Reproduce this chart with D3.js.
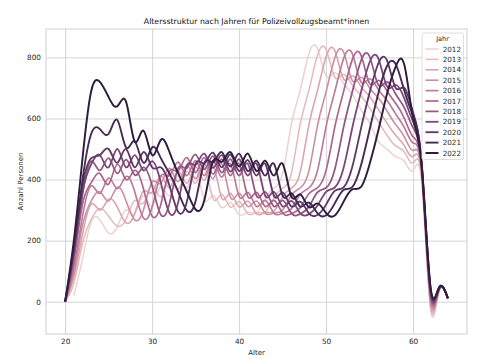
<!DOCTYPE html>
<html>
<head>
<meta charset="utf-8">
<script src="https://cdn.jsdelivr.net/npm/d3@7"></script>
<style>
  body { margin: 0; background: #fff; }
  svg { display: block; font-family: "DejaVu Sans", sans-serif; }
</style>
</head>
<body>
<div id="chart"></div>
<script>
// ages on the x axis, one value per age and year
const ages = [20,21,22,23,24,25,26,27,28,29,30,31,32,33,34,35,36,37,38,39,40,41,42,43,44,45,46,47,48,49,50,51,52,53,54,55,56,57,58,59,60,61,62,63,64];
const years = [2012,2013,2014,2015,2016,2017,2018,2019,2020,2021,2022];

const y2012 = [null,20,140,262,268,225,245,302,288,347,313,377,348,412,373,432,335,348,308,325,285,292,292,338,372,420,580,690,810,830,740,750,715,680,630,585,525,500,475,460,430,390,-25,35,8];
const y2013 = [0,60,190,270,305,280,248,270,332,323,382,343,402,368,427,388,442,338,352,310,328,288,292,294,340,372,420,578,690,806,826,735,745,710,675,635,590,545,510,490,455,400,-15,38,10];
const y2014 = [0,80,220,320,300,335,310,258,288,362,358,412,373,427,388,442,398,447,340,355,310,330,288,292,297,343,372,422,576,690,802,822,730,740,705,672,630,585,545,510,475,410,-5,38,10];
const y2015 = [0,90,250,330,360,330,375,330,268,300,392,388,437,393,447,403,452,403,452,342,355,312,330,290,290,300,348,372,425,575,688,798,818,725,735,700,668,625,580,540,495,420,5,40,10];
const y2016 = [0,110,280,380,355,405,370,410,360,274,310,412,413,457,413,462,413,462,408,452,345,358,312,332,290,290,304,350,372,428,574,688,795,813,720,730,695,660,615,570,520,425,15,40,10];
const y2017 = [0,130,320,390,420,385,450,400,430,370,280,318,427,428,472,423,472,418,467,413,452,345,358,312,332,290,288,307,353,373,430,572,687,792,808,715,725,690,650,600,540,430,22,42,10];
const y2018 = [0,150,350,460,430,470,420,465,415,440,380,285,322,437,438,482,433,477,423,467,413,452,347,360,312,332,290,287,310,358,373,433,570,686,788,803,710,720,680,635,570,435,28,42,10];
const y2019 = [0,160,360,450,480,440,500,440,480,430,460,390,290,326,447,448,485,438,480,426,467,413,452,347,360,312,330,290,286,314,360,374,437,568,685,784,797,705,710,665,590,440,34,44,12];
const y2020 = [0,170,380,470,480,500,455,500,440,490,440,440,380,294,328,452,453,488,440,482,428,464,413,452,347,358,312,328,290,284,318,363,374,440,566,684,780,790,700,700,620,445,40,44,12];
const y2021 = [0,180,400,550,565,550,595,505,525,455,505,470,420,360,298,330,455,456,490,443,485,428,462,413,452,347,355,312,325,290,283,322,366,375,445,563,682,772,778,690,610,450,45,46,12];
const y2022 = [0,200,470,690,720,670,640,655,525,560,480,530,490,420,360,302,332,460,458,490,443,485,428,462,413,452,345,352,310,322,290,282,327,368,375,450,560,680,770,775,600,445,50,48,12];

const yTicks = [0,200,400,600,800];
const xTicks = [20,30,40,50,60];

const allSeries = [y2012,y2013,y2014,y2015,y2016,y2017,y2018,y2019,y2020,y2021,y2022];

const width = 503, height = 359;
const margin = {left: 46, right: 36, top: 29, bottom: 25};

// matplotlib cubehelix as used by seaborn for numeric hue
function cubehelix(x) {
  const a = 0.8 * x * (1 - x) / 2;
  const phi = 2 * Math.PI * (0.4 * x);
  const c = Math.cos(phi), s = Math.sin(phi);
  const r = x + a * (-0.14861 * c + 1.78277 * s);
  const g = x + a * (-0.29227 * c - 0.90649 * s);
  const b = x + a * (1.97294 * c);
  const f = v => Math.round(Math.max(0, Math.min(1, v)) * 255);
  return d3.rgb(f(r), f(g), f(b)).formatHex();
}
const color = d3.scaleLinear().domain([2012, 2022]).range([0.85, 0.15]);
const lineWidth = (i) => 1.45 + i * 0.05;

const svg = d3.select("#chart").append("svg")
  .attr("width", width).attr("height", height);

const x = d3.scaleLinear().domain([17.8, 66.2]).range([margin.left, width - margin.right]);
const y = d3.scaleLinear().domain([-105.7, 893]).range([height - margin.bottom, margin.top]);

// grid
svg.append("g")
  .attr("transform", `translate(0,${height - margin.bottom})`)
  .call(d3.axisBottom(x).tickValues(xTicks).tickSize(-(height - margin.top - margin.bottom)).tickPadding(5))
  .call(g => g.select(".domain").remove())
  .call(g => g.selectAll("line").attr("stroke", "#cfcfcf").attr("stroke-width", 0.9))
  .call(g => g.selectAll("text").attr("font-size", 7.3).attr("fill", "#1f1f1f").attr("font-family", "DejaVu Sans"));

svg.append("g")
  .attr("transform", `translate(${margin.left},0)`)
  .call(d3.axisLeft(y).tickValues(yTicks).tickSize(-(width - margin.left - margin.right)).tickPadding(5))
  .call(g => g.select(".domain").remove())
  .call(g => g.selectAll("line").attr("stroke", "#cfcfcf").attr("stroke-width", 0.9))
  .call(g => g.selectAll("text").attr("font-size", 7.3).attr("fill", "#1f1f1f").attr("font-family", "DejaVu Sans"));

svg.append("rect")
  .attr("x", margin.left).attr("y", margin.top)
  .attr("width", width - margin.left - margin.right)
  .attr("height", height - margin.top - margin.bottom)
  .attr("fill", "none").attr("stroke", "#cfcfcf").attr("stroke-width", 1);

svg.append("clipPath").attr("id", "clip").append("rect")
  .attr("x", margin.left).attr("y", margin.top)
  .attr("width", width - margin.left - margin.right)
  .attr("height", height - margin.top - margin.bottom);

const line = d3.line()
  .defined(d => d[1] != null)
  .x(d => x(d[0]))
  .y(d => y(d[1]))
  .curve(d3.curveNatural);

svg.append("g").attr("clip-path", "url(#clip)")
  .selectAll("path")
  .data(years)
  .join("path")
  .attr("d", (yr, i) => line(ages.map((a, j) => [a, allSeries[i][j]])))
  .attr("fill", "none")
  .attr("stroke", yr => cubehelix(color(yr)))
  .attr("stroke-width", (yr, i) => lineWidth(i))
  .attr("stroke-linejoin", "round");

// title and labels
svg.append("text")
  .attr("x", (margin.left + width - margin.right) / 2).attr("y", 24)
  .attr("text-anchor", "middle").attr("font-size", 7.8).attr("fill", "#111")
  .text("Altersstruktur nach Jahren für Polizeivollzugsbeamt*innen");

svg.append("text")
  .attr("x", (margin.left + width - margin.right) / 2).attr("y", 355)
  .attr("text-anchor", "middle").attr("font-size", 7).attr("fill", "#1f1f1f")
  .text("Alter");

svg.append("text")
  .attr("transform", `translate(23,${(margin.top + height - margin.bottom) / 2}) rotate(-90)`)
  .attr("text-anchor", "middle").attr("font-size", 7).attr("fill", "#1f1f1f")
  .text("Anzahl Personen");

// legend
const lg = svg.append("g").attr("transform", "translate(422,33)");
lg.append("rect")
  .attr("width", 41.5).attr("height", 126.5).attr("rx", 1.5)
  .attr("fill", "#fff").attr("fill-opacity", 0.8)
  .attr("stroke", "#d6d6d6").attr("stroke-width", 0.8);
lg.append("text")
  .attr("x", 20.5).attr("y", 8).attr("text-anchor", "middle")
  .attr("font-size", 6.5).attr("fill", "#1f1f1f").text("Jahr");
years.forEach((yr, i) => {
  const row = lg.append("g").attr("transform", `translate(0,${16 + i * 10.4})`);
  row.append("line")
    .attr("x1", 3.5).attr("x2", 16.5)
    .attr("stroke", cubehelix(color(yr)))
    .attr("stroke-width", lineWidth(i));
  row.append("text")
    .attr("x", 39).attr("y", 2.5).attr("text-anchor", "end")
    .attr("font-size", 7.2).attr("fill", "#1f1f1f").text(yr);
});
</script>
</body>
</html>
